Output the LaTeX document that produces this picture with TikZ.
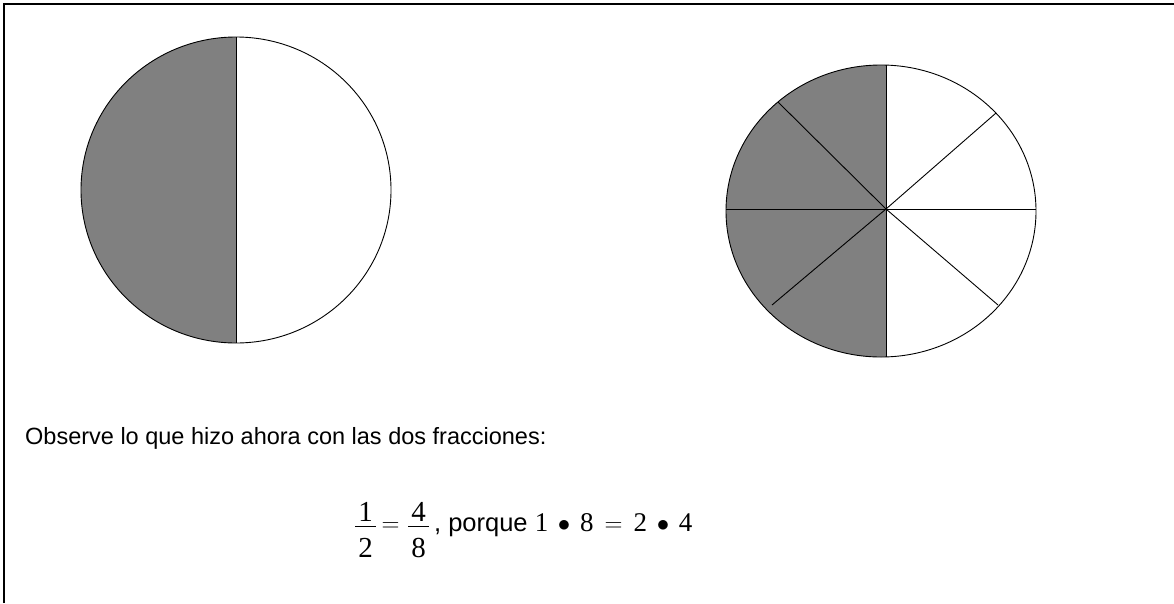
\documentclass[tikz,border=0pt]{standalone}
\usepackage{amsmath}
\usepackage[no-math]{fontspec}
\setmainfont{Liberation Sans}
\newfontfamily\timesfont{Liberation Serif}
\newcommand{\tnum}[1]{\text{\fontsize{27}{30}\selectfont\timesfont #1}}
\newcommand{\fracbox}[2]{{\fontsize{29}{32}\selectfont\timesfont
    \setbox0=\hbox to 21pt{\hss#1\hss}\setbox2=\hbox to 21pt{\hss#2\hss}%
    \rlap{\raise10pt\box0}\rlap{\raise3.8pt\hbox{\vrule width 21pt height 1.3pt depth 0pt}}\lower26pt\box2}}
\usepackage{tikz}

\begin{document}
\begin{tikzpicture}[x=1pt, y=-1pt,
        % Define styles for the drawing
        frame/.style={line width=1.8pt, draw=black},
        rim/.style={draw=black, line width=0.9pt},
        cut/.style={draw=black, line width=0.9pt},
        half/.style={fill=gray},
        txt/.style={anchor=base west, inner sep=0pt, font=\fontsize{23.5}{28}\selectfont},
        eqn/.style={anchor=base west, inner sep=0pt, font=\fontsize{25.5}{30}\selectfont}
    ]
    \useasboundingbox (0,0) rectangle (1174,603);

    % Define frame
    \draw[frame] (4,603) -- (4,4) -- (1174,4);

    % Left circle: halves
    \begin{scope}
        \clip (236,190) ellipse [x radius=155, y radius=153];
        \fill[half] (70,30) rectangle (236,350);
    \end{scope}
    \draw[rim] (236,190) ellipse [x radius=155, y radius=153];
    \draw[cut] (236,37) -- (236,343);

    % Right circle: eighths
    \coordinate (mid) at (886,209);
    \coordinate (top) at (886,65);
    \coordinate (bottom) at (886,357);
    \coordinate (west) at (726,209);
    \coordinate (east) at (1036,209);
    \coordinate (ne) at (996,113);
    \coordinate (se) at (998,305);
    \coordinate (sw) at (772,305);
    \coordinate (nw) at (778,102);
    \begin{scope}
        \clip (881,211) ellipse [x radius=155, y radius=146];
        \fill[half] (700,50) rectangle (886,370);
    \end{scope}
    \draw[rim] (881,211) ellipse [x radius=155, y radius=146];
    \draw[cut] (top) -- (bottom);
    \draw[cut] (west) -- (east);
    \draw[cut] (nw) -- (mid) -- (se);
    \draw[cut] (sw) -- (mid) -- (ne);

    % Add text
    \node[txt] (question) at (25,444) {Observe lo que hizo ahora con las dos fracciones:};
    \node[eqn] (equation) at (355,531) {\fracbox{1}{2}\hspace{5.5pt}$=$\hspace{8.5pt}\fracbox{4}{8}\hspace{5pt}, porque
        $\tnum{1}\,\bullet\,\tnum{8}\,=\,\tnum{2}\,\bullet\,\tnum{4}$};
\end{tikzpicture}
\end{document}
